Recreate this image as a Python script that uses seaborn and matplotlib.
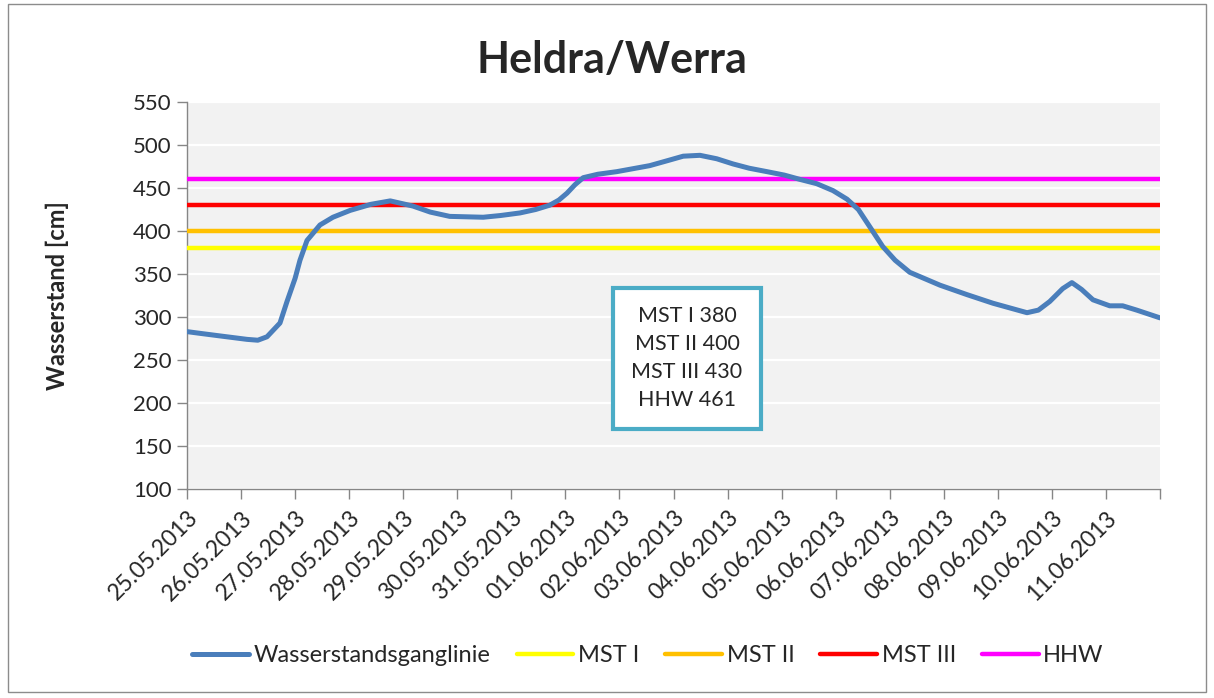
import matplotlib
matplotlib.use("Agg")
import matplotlib.pyplot as plt
import seaborn as sns
import pandas as pd
from matplotlib.patches import Rectangle

# ---- data ----
tick_labels = ["25.05.2013", "26.05.2013", "27.05.2013", "28.05.2013", "29.05.2013",
               "30.05.2013", "31.05.2013", "01.06.2013", "02.06.2013", "03.06.2013",
               "04.06.2013", "05.06.2013", "06.06.2013", "07.06.2013", "08.06.2013",
               "09.06.2013", "10.06.2013", "11.06.2013", ""]
days = [0.0, 0.24, 0.61, 1.11, 1.31, 1.48, 1.72, 1.85, 2.0, 2.09, 2.22, 2.46, 2.7, 3.02,
        3.4, 3.76, 4.18, 4.5, 4.86, 5.48, 5.8, 6.16, 6.45, 6.71, 6.88, 7.03, 7.18, 7.33,
        7.6, 7.95, 8.56, 8.9, 9.18, 9.49, 9.8, 10.1, 10.4, 10.73, 11.05, 11.34, 11.65,
        11.95, 12.21, 12.42, 12.63, 12.87, 13.1, 13.37, 13.93, 14.43, 14.91, 15.54,
        15.75, 15.96, 16.2, 16.37, 16.55, 16.76, 17.07, 17.31, 17.57, 18.0]
level = [283, 281, 278, 274, 273, 277, 293, 318, 345, 366, 389, 407, 416, 424,
         431, 435, 429, 422, 417, 416, 418, 421, 425, 430, 436, 444, 454, 462,
         466, 469, 476, 482, 487, 488, 484, 478, 473, 469, 465, 460, 455,
         447, 437, 425, 405, 382, 366, 352, 337, 326, 316, 305,
         308, 318, 333, 340, 332, 320, 313, 313, 308, 299]
thr_names = ["MST I", "MST II", "MST III", "HHW"]
thr_values = [380, 400, 430, 461]
thr_colors = ["#ffff00", "#ffc000", "#ff0000", "#ff00ff"]
series_name = "Wasserstandsganglinie"

sns.set_theme(style="white")
plt.rcParams["font.family"] = ["Lato", "DejaVu Sans"]

fig = plt.figure(figsize=(12.14, 6.98), dpi=100)
ax = fig.add_axes([187/1214, 1-489/698, (1160-187)/1214, (489-102)/698])
ax.set_facecolor("#f2f2f2")

df = pd.DataFrame({"day": days, "level": level})
sns.lineplot(data=df, x="day", y="level", ax=ax, color="#4a7ebb", lw=3.6,
             label=series_name, zorder=5, solid_joinstyle="round", solid_capstyle="round")
for n, v, c in zip(thr_names, thr_values, thr_colors):
    ax.axhline(v, color=c, lw=3.2, label=n, zorder=4)

ax.set_xlim(0, 18)
ax.set_ylim(100, 550)
ax.set_yticks(range(100, 551, 50))
ax.set_xticks(range(len(tick_labels)))
ax.set_xticklabels(tick_labels, rotation=45, ha="right", rotation_mode="anchor", fontsize=16.5)
ax.tick_params(axis="y", labelsize=16, length=7, width=1, color="#868686", direction="out",
               left=True, pad=4)
ax.tick_params(axis="x", length=7, width=1, color="#868686", direction="out", bottom=True, pad=6)
ax.yaxis.grid(True, color="white", lw=1.6)
ax.set_axisbelow(True)
for s in ["top", "right"]:
    ax.spines[s].set_visible(False)
for s in ["left", "bottom"]:
    ax.spines[s].set_color("#868686")
    ax.spines[s].set_linewidth(1)
ax.set_xlabel("")
ax.set_ylabel("Wasserstand [cm]", fontsize=17, fontweight="bold", labelpad=46)

fig.text(612/1214, 1-60/698, "Heldra/Werra", ha="center", va="center",
         fontsize=31, fontweight="bold")

box_text = "\n".join(f"{n} {v}" for n, v in zip(thr_names, thr_values))
ax.text(9.25, 252, box_text, ha="center", va="center", fontsize=15.5, linespacing=1.5,
        zorder=6, bbox=dict(boxstyle="square,pad=0.85", fc="white", ec="#4bacc6", lw=3))

h, l = ax.get_legend_handles_labels()
leg = fig.legend(h, l, loc="center", bbox_to_anchor=(648/1214, 1-656/698), ncol=5,
                 frameon=False, fontsize=17, handlelength=2.4, columnspacing=1.1,
                 handletextpad=0.2)
if ax.get_legend():
    ax.get_legend().remove()

fig.patches.append(Rectangle((8/1214, 6/698), 1198/1214, 688/698, transform=fig.transFigure,
                             fill=False, ec="#8c8c8c", lw=1))

fig.savefig("out.png", dpi=100)
